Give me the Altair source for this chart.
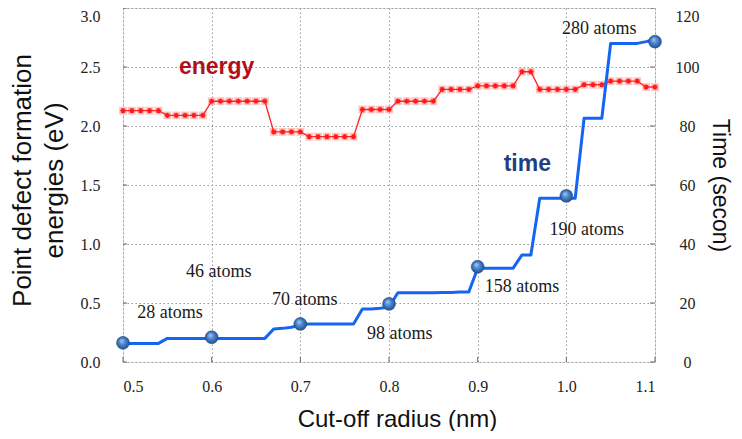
import altair as alt
import pandas as pd

# ---------------- data ----------------
radius = [0.50, 0.51, 0.52, 0.53, 0.54, 0.55, 0.56, 0.57, 0.58, 0.59,
          0.60, 0.61, 0.62, 0.63, 0.64, 0.65, 0.66, 0.67, 0.68, 0.69,
          0.70, 0.71, 0.72, 0.73, 0.74, 0.75, 0.76, 0.77, 0.78, 0.79,
          0.80, 0.81, 0.82, 0.83, 0.84, 0.85, 0.86, 0.87, 0.88, 0.89,
          0.90, 0.91, 0.92, 0.93, 0.94, 0.95, 0.96, 0.97, 0.98, 0.99,
          1.00, 1.01, 1.02, 1.03, 1.04, 1.05, 1.06, 1.07, 1.08, 1.09,
          1.10]

energy = [2.13, 2.13, 2.13, 2.13, 2.13,
          2.09, 2.09, 2.09, 2.09, 2.09,
          2.21, 2.21, 2.21, 2.21, 2.21, 2.21, 2.21,
          1.95, 1.95, 1.95, 1.95,
          1.91, 1.91, 1.91, 1.91, 1.91, 1.91,
          2.14, 2.14, 2.14, 2.14,
          2.21, 2.21, 2.21, 2.21, 2.21,
          2.31, 2.31, 2.31, 2.31,
          2.34, 2.34, 2.34, 2.34, 2.34,
          2.46, 2.46,
          2.31, 2.31, 2.31, 2.31, 2.31,
          2.35, 2.35, 2.35,
          2.38, 2.38, 2.38, 2.38,
          2.33, 2.33]

time_s = [6.3, 6.3, 6.3, 6.3, 6.3,
          8.0, 8.0, 8.0, 8.0, 8.0, 8.0, 8.0, 8.0, 8.0, 8.0, 8.0, 8.0,
          11.2, 11.4, 11.8, 12.6,
          12.9, 12.9, 12.9, 12.9, 12.9, 12.9,
          18.0, 18.0, 18.2, 18.6,
          23.5, 23.5, 23.5, 23.5, 23.5, 23.6, 23.6, 23.7, 23.7,
          31.8, 31.8, 31.8, 31.8, 31.8,
          36.3, 36.3,
          55.5, 55.5, 55.5, 55.5, 55.5,
          82.6, 82.6, 82.6,
          108.0, 108.0, 108.0, 108.0,
          108.6, 109.4]

dot_radius = [0.5, 0.6, 0.7, 0.8, 0.9, 1.0, 1.1]
dot_time = [6.5, 8.4, 12.9, 19.7, 32.3, 56.3, 108.6]

label_text = ["28 atoms", "46 atoms", "70 atoms", "98 atoms",
              "158 atoms", "190 atoms", "280 atoms"]
label_x = [0.553, 0.608, 0.705, 0.812, 0.950, 1.023, 1.037]
label_y = [0.37, 0.72, 0.48, 0.195, 0.597, 1.076, 2.78]

series_text = ["energy", "time"]
series_x = [0.6056, 0.956]
series_y = [2.44, 1.62]
series_color = ["#b0101a", "#1f3f7f"]

x_ticks = [0.5, 0.6, 0.7, 0.8, 0.9, 1.0, 1.1]
energy_ticks = [0.0, 0.5, 1.0, 1.5, 2.0, 2.5, 3.0]
time_ticks = [0, 20, 40, 60, 80, 100, 120]

# ---------------- tables ----------------
df_line = pd.DataFrame({"r": radius, "energy": energy, "time": time_s})
df_dots = pd.DataFrame({"r": dot_radius, "time": dot_time})
df_lab = pd.DataFrame({"r": label_x, "energy": label_y, "txt": label_text})
df_ser = pd.DataFrame({"r": series_x, "energy": series_y, "txt": series_text,
                       "col": series_color})
df_xt = pd.DataFrame({"r": x_ticks})
df_et = pd.DataFrame({"energy": energy_ticks})
df_tt = pd.DataFrame({"time": time_ticks})

W, H = 532, 354
SERIF = "Liberation Serif"
SANS = "Liberation Sans"

xscale = alt.Scale(domain=[0.5, 1.1], nice=False, zero=False)
escale = alt.Scale(domain=[0, 3], nice=False)
tscale = alt.Scale(domain=[0, 120], nice=False)

e_base = {"condition": {"test": "datum.value >= 3", "value": "top"}, "value": "middle"}
t_base = {"condition": {"test": "datum.value >= 120", "value": "top"}, "value": "middle"}

xaxis = alt.Axis(values=x_ticks, format=".1f", labelFont=SERIF, labelFontSize=16,
                 labelColor="#222", labelPadding=16, ticks=False, domain=False,
                 grid=True, gridDash=[1.5, 2.5], gridColor="#9a9a9a", gridWidth=1,
                 title="Cut-off radius (nm)", titleFont=SANS, titleFontSize=24,
                 titleFontWeight="normal", titleColor="#111", titlePadding=13,
                 titleX=274)
eaxis = alt.Axis(values=energy_ticks, format=".1f", labelFont=SERIF, labelFontSize=16,
                 labelColor="#222", labelPadding=23, labelBaseline=e_base,
                 ticks=False, domain=False,
                 grid=True, gridDash=[1.5, 2.5], gridColor="#9a9a9a", gridWidth=1,
                 title=["Point defect formation", "energies (eV)"], titleFont=SANS,
                 titleFontSize=26, titleFontWeight="normal", titleColor="#111",
                 titlePadding=13, titleLineHeight=32, titleY=172, orient="left")
taxis = alt.Axis(values=time_ticks, format="d", labelFont=SERIF, labelFontSize=16,
                 labelColor="#222", labelPadding=32, labelAlign="center",
                 labelBaseline=t_base, ticks=False, domain=False, grid=False,
                 title="Time (secon)", titleFont=SANS, titleFontSize=23,
                 titleFontWeight="normal", titleColor="#111", titlePadding=8,
                 orient="right")

X = alt.X("r:Q", scale=xscale, axis=xaxis)
YE = alt.Y("energy:Q", scale=escale, axis=eaxis)
YT = alt.Y("time:Q", scale=tscale, axis=taxis)

# ---------------- energy group ----------------
e_halo = alt.Chart(df_line).mark_point(shape="square", filled=True, color="#ffb0b0",
                                       opacity=0.8, size=60).encode(x=X, y=YE)
e_line = alt.Chart(df_line).mark_line(color="#ff2a2a", strokeWidth=1.4).encode(x=X, y=YE)
asterisk = "M-1,0L1,0M0,-1L0,1M-0.7,-0.7L0.7,0.7M-0.7,0.7L0.7,-0.7"
e_star = alt.Chart(df_line).mark_point(shape=asterisk, filled=False, color="#ff1a1a",
                                       strokeWidth=1.3, size=28, opacity=1).encode(x=X, y=YE)
labels = alt.Chart(df_lab).mark_text(font=SERIF, fontSize=18, color="#1a1a1a",
                                     baseline="alphabetic", align="center").encode(
    x=X, y=YE, text="txt:N")
series_lab = alt.Chart(df_ser).mark_text(font=SANS, fontSize=23, fontWeight="bold",
                                         baseline="alphabetic", align="center").encode(
    x=X, y=YE, text="txt:N", color=alt.Color("col:N", scale=None))
bottom_ticks = alt.Chart(df_xt).mark_rule(color="#666", strokeWidth=1).encode(
    x=X, y=alt.value(H - 5), y2=alt.value(H))
left_ticks = alt.Chart(df_et).mark_rule(color="#666", strokeWidth=1).encode(
    y=YE, x=alt.value(0), x2=alt.value(4))

energy_group = alt.layer(e_halo, e_line, e_star, labels, series_lab,
                         bottom_ticks, left_ticks)

# ---------------- time group ----------------
t_line = alt.Chart(df_line).mark_line(color="#1565f5", strokeWidth=3,
                                      strokeJoin="round").encode(x=X, y=YT)
grad = alt.RadialGradient(
    gradient="radial",
    stops=[alt.GradientStop(color="#a9cdf5", offset=0),
           alt.GradientStop(color="#4d86cf", offset=0.45),
           alt.GradientStop(color="#1d4b8c", offset=1)],
    x1=0.38, y1=0.32, r1=0.0, x2=0.5, y2=0.5, r2=0.55)
t_dots = alt.Chart(df_dots).mark_point(shape="circle", filled=True, fill=grad,
                                       stroke="#24497e", strokeWidth=0.6,
                                       size=165, opacity=1).encode(x=X, y=YT)
right_ticks = alt.Chart(df_tt).mark_rule(color="#666", strokeWidth=1).encode(
    y=YT, x=alt.value(W - 5), x2=alt.value(W))

time_group = alt.layer(t_line, t_dots, right_ticks)

chart = alt.layer(energy_group, time_group).resolve_scale(y="independent").properties(
    width=W, height=H,
    autosize=alt.AutoSizeParams(type="none"),
    padding={"left": 115, "top": 0, "right": 79, "bottom": 69},
).configure_view(stroke="#6e6e6e", strokeWidth=1.5).configure(background="white")

chart.save("out.html", embed_options={"renderer": "svg", "actions": False})
